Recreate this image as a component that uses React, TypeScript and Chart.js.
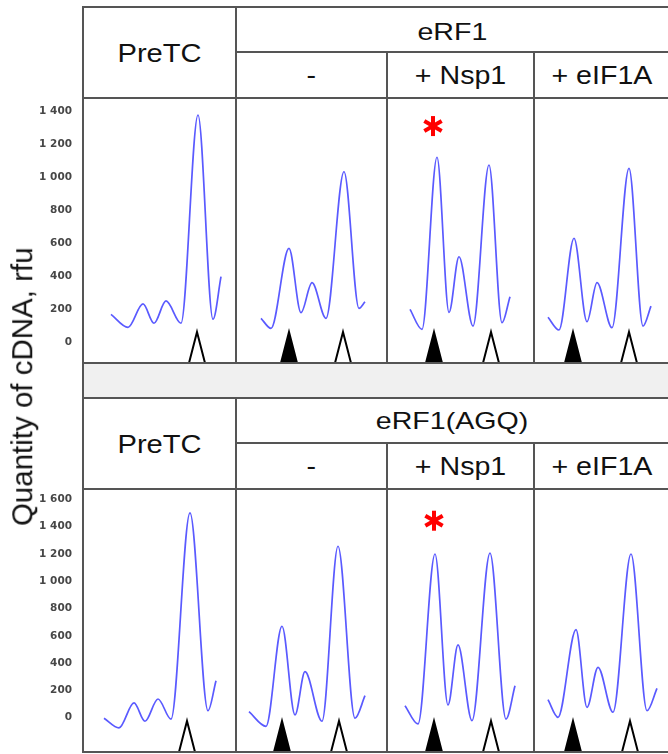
import React, { useEffect, useRef } from "react";
import { Chart, registerables } from "chart.js";

Chart.register(...registerables);

// ---------- data ----------
// y-axis tick values (rfu)
const topTicks = [0, 200, 400, 600, 800, 1000, 1200, 1400];
const bottomTicks = [0, 200, 400, 600, 800, 1000, 1200, 1400, 1600];

// column headers
const panelTitles = ["eRF1", "eRF1(AGQ)"];
const conditionLabels = ["-", "+ Nsp1", "+ eIF1A"];
const firstColumnLabel = "PreTC";
const yAxisTitle = "Quantity of cDNA, rfu";

// traces: lane position (relative units across the panel) and signal (rfu)
// panel 1: eRF1
const eRF1PreTcX = [28, 45, 60, 71, 83, 98, 115, 130, 138];
const eRF1PreTcY = [172, 93, 235, 118, 253, 118, 1380, 142, 400];
const eRF1NoneX = [178, 188, 206, 218, 229, 243, 261, 276, 282];
const eRF1NoneY = [148, 87, 572, 182, 364, 148, 1036, 208, 248];
const eRF1Nsp1X = [327, 339, 354, 366, 376, 390, 406, 419, 427];
const eRF1Nsp1Y = [202, 81, 1124, 184, 521, 101, 1077, 121, 279];
const eRF1Eif1aX = [465, 476, 491, 504, 514, 529, 546, 560, 568];
const eRF1Eif1aY = [154, 77, 633, 127, 364, 91, 1057, 101, 222];

// panel 2: eRF1(AGQ)
const agqPreTcX = [21, 36, 51, 62, 75, 88, 107, 125, 133];
const agqPreTcY = [-4, -75, 108, -26, 137, -10, 1500, 51, 271];
const agqNoneX = [166, 183, 199, 212, 222, 239, 255, 272, 282];
const agqNoneY = [44, -63, 670, 20, 337, -26, 1256, -4, 161];
const agqNsp1X = [322, 335, 352, 365, 375, 389, 407, 423, 432];
const agqNsp1Y = [88, -46, 1199, 93, 533, -22, 1206, -10, 234];
const agqEif1aX = [465, 475, 493, 504, 515, 530, 548, 564, 574];
const agqEif1aY = [132, 3, 645, 76, 369, 40, 1199, 51, 215];

// arrowhead markers (lane positions)
const eRF1FilledMarks = [206, 351, 490];
const eRF1OpenMarks = [114, 260, 408, 546];
const agqFilledMarks = [199, 351, 490];
const agqOpenMarks = [104, 256, 408, 547];

// significance asterisk (lane position, rfu)
const eRF1StarX = 350;
const eRF1StarY = 1313;
const agqStarX = 351;
const agqStarY = 1443;

// ---------- helpers ----------
const FONT = '"Liberation Sans", Arial, sans-serif';
const LINE = "#555555";
const TRACE = "#5a5aff";

function fmt(v: number): string {
  if (Math.abs(v) >= 1000) {
    const th = Math.floor(v / 1000);
    const rest = String(v % 1000).padStart(3, "0");
    return `${th} ${rest}`;
  }
  return String(v);
}

type PanelSpec = {
  traces: { x: number[]; y: number[] }[];
  ticks: number[];
  yMin: number;
  yMax: number;
  filled: number[];
  open: number[];
  starX: number;
  starY: number;
};

const markPlugin = {
  id: "marks",
  afterDatasetsDraw(chart: any, _args: any, opts: any) {
    const { ctx, chartArea, scales } = chart;
    const xs = scales.x;
    const ys = scales.y;
    const h = 31;
    const w = 16;
    const bottom = chartArea.bottom + 1;
    const tri = (v: number, filled: boolean) => {
      const cx = xs.getPixelForValue(v);
      ctx.beginPath();
      ctx.moveTo(cx, bottom - h);
      ctx.lineTo(cx + w / 2, bottom);
      ctx.lineTo(cx - w / 2, bottom);
      ctx.closePath();
      ctx.fillStyle = filled ? "#000" : "#fff";
      ctx.fill();
      ctx.lineWidth = 2;
      ctx.strokeStyle = "#000";
      ctx.lineJoin = "miter";
      ctx.stroke();
    };
    ctx.save();
    (opts.filled || []).forEach((v: number) => tri(v, true));
    (opts.open || []).forEach((v: number) => tri(v, false));
    // asterisk
    const sx = xs.getPixelForValue(opts.starX);
    const sy = ys.getPixelForValue(opts.starY);
    ctx.strokeStyle = "#ff0000";
    ctx.lineWidth = 4;
    ctx.lineCap = "butt";
    const r = 10;
    for (let k = 0; k < 3; k++) {
      const a = Math.PI / 2 + (k * Math.PI) / 3;
      ctx.beginPath();
      ctx.moveTo(sx - Math.cos(a) * r, sy - Math.sin(a) * r);
      ctx.lineTo(sx + Math.cos(a) * r, sy + Math.sin(a) * r);
      ctx.stroke();
    }
    ctx.restore();
  },
};

function PanelChart({ spec, top, height }: { spec: PanelSpec; top: number; height: number }) {
  const ref = useRef<HTMLCanvasElement | null>(null);
  useEffect(() => {
    if (!ref.current) return;
    const chart = new Chart(ref.current, {
      type: "line",
      data: {
        datasets: spec.traces.map((t) => ({
          data: t.x.map((x, i) => ({ x, y: t.y[i] })),
          borderColor: TRACE,
          borderWidth: 1.7,
          pointRadius: 0,
          fill: false,
          cubicInterpolationMode: "monotone" as const,
        })),
      },
      options: {
        animation: false,
        responsive: false,
        maintainAspectRatio: false,
        layout: { padding: 0 },
        plugins: {
          legend: { display: false },
          tooltip: { enabled: false },
          marks: {
            filled: spec.filled,
            open: spec.open,
            starX: spec.starX,
            starY: spec.starY,
          },
        } as any,
        scales: {
          x: { type: "linear", min: 0, max: 585, display: false },
          y: {
            type: "linear",
            min: spec.yMin,
            max: spec.yMax,
            grid: { display: false, drawTicks: false },
            border: { display: false },
            afterBuildTicks: (s: any) => {
              s.ticks = spec.ticks.map((v) => ({ value: v }));
            },
            afterFit: (s: any) => {
              s.width = 83;
              s.paddingTop = 0;
              s.paddingBottom = 0;
            },
            ticks: {
              padding: 11,
              color: "#474747",
              font: { family: '"DejaVu Sans", sans-serif', size: 10.5, weight: "bold" },
              callback: (v: any) => fmt(Number(v)),
            },
          },
        },
      },
      plugins: [markPlugin],
    } as any);
    return () => chart.destroy();
  }, [spec]);
  return (
    <canvas
      ref={ref}
      width={668}
      height={height}
      style={{ position: "absolute", left: 0, top, width: 668, height }}
    />
  );
}

const topSpec: PanelSpec = {
  traces: [
    { x: eRF1PreTcX, y: eRF1PreTcY },
    { x: eRF1NoneX, y: eRF1NoneY },
    { x: eRF1Nsp1X, y: eRF1Nsp1Y },
    { x: eRF1Eif1aX, y: eRF1Eif1aY },
  ],
  ticks: topTicks,
  yMin: -117,
  yMax: 1477,
  filled: eRF1FilledMarks,
  open: eRF1OpenMarks,
  starX: eRF1StarX,
  starY: eRF1StarY,
};

const bottomSpec: PanelSpec = {
  traces: [
    { x: agqPreTcX, y: agqPreTcY },
    { x: agqNoneX, y: agqNoneY },
    { x: agqNsp1X, y: agqNsp1Y },
    { x: agqEif1aX, y: agqEif1aY },
  ],
  ticks: bottomTicks,
  yMin: -244,
  yMax: 1668,
  filled: agqFilledMarks,
  open: agqOpenMarks,
  starX: agqStarX,
  starY: agqStarY,
};

function Line({ l, t, w, h, bg = LINE }: { l: number; t: number; w: number; h: number; bg?: string }) {
  return <div style={{ position: "absolute", left: l, top: t, width: w, height: h, background: bg }} />;
}

function Label({
  l, t, w, h, text, size, sx, dy = 0,
}: { l: number; t: number; w: number; h: number; text: string; size: number; sx: number; dy?: number }) {
  return (
    <div
      style={{
        position: "absolute", left: l, top: t + dy, width: w, height: h,
        display: "flex", alignItems: "center", justifyContent: "center",
        fontFamily: FONT, fontSize: size, color: "#111", lineHeight: 1, whiteSpace: "nowrap",
      }}
    >
      <span style={{ display: "inline-block", transform: `scaleX(${sx})` }}>{text}</span>
    </div>
  );
}

function Header({ off, title }: { off: number; title: string }) {
  return (
    <>
      <Label l={84} t={8 + off} w={151} h={89} text={firstColumnLabel} size={26} sx={1.12} />
      <Label l={237} t={8 + off} w={431} h={43} text={title} size={24} sx={1.19} dy={off === 0 ? 2 : 0} />
      <Label l={237} t={53 + off} w={149} h={44} text={conditionLabels[0]} size={26} sx={1.1} />
      <Label l={388} t={53 + off} w={145} h={44} text={conditionLabels[1]} size={26} sx={1.1} />
      <Label l={535} t={53 + off} w={133} h={44} text={conditionLabels[2]} size={26} sx={1.1} />
    </>
  );
}

export default function App() {
  const off2 = 391;
  return (
    <div style={{ position: "absolute", left: 0, top: 0, width: 668, height: 754, background: "#fff", overflow: "hidden" }}>
      <Line l={84} t={364} w={584} h={33} bg="#f0f0f0" />
      <PanelChart spec={topSpec} top={99} height={263} />
      <PanelChart spec={bottomSpec} top={490} height={261} />
      <Header off={0} title={panelTitles[0]} />
      <Header off={off2} title={panelTitles[1]} />
      {/* table rules */}
      <Line l={82} t={6} w={586} h={2} />
      <Line l={235} t={51} w={433} h={2} />
      <Line l={82} t={97} w={586} h={2} />
      <Line l={82} t={362} w={586} h={2} />
      <Line l={82} t={397} w={586} h={2} />
      <Line l={235} t={442} w={433} h={2} />
      <Line l={82} t={488} w={586} h={2} />
      <Line l={82} t={751} w={586} h={2} />
      <Line l={82} t={6} w={2} h={747} />
      <Line l={235} t={6} w={2} h={358} />
      <Line l={386} t={51} w={2} h={313} />
      <Line l={533} t={51} w={2} h={313} />
      <Line l={235} t={397} w={2} h={356} />
      <Line l={386} t={442} w={2} h={311} />
      <Line l={533} t={442} w={2} h={311} />
      {/* y-axis title */}
      <div
        style={{
          position: "absolute", left: 22 - 150, top: 387 - 14.75, width: 300, height: 29.5,
          lineHeight: "29.5px", textAlign: "center", fontFamily: FONT, fontSize: 29.5, color: "#111",
          transform: "rotate(-90deg)", whiteSpace: "nowrap",
        }}
      >
        {yAxisTitle}
      </div>
    </div>
  );
}
